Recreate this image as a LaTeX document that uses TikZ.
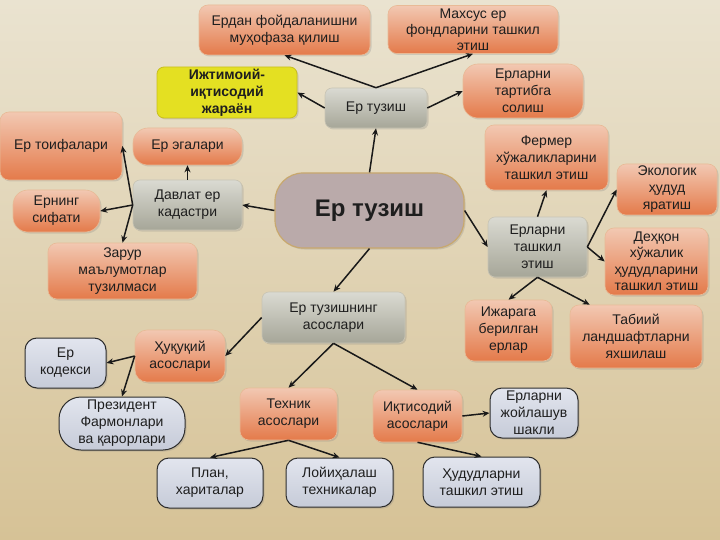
\documentclass[tikz,border=0pt]{standalone}
\usepackage{fontspec}
\setmainfont{Liberation Sans}
\usetikzlibrary{arrows.meta,shadows,calc}
\definecolor{bgtop}{RGB}{234,227,208}
\definecolor{bgbot}{RGB}{214,194,150}
\definecolor{ortop}{RGB}{242,200,178}
\definecolor{orbot}{RGB}{228,122,74}
\definecolor{orline}{RGB}{232,186,150}
\definecolor{grtop}{RGB}{218,218,210}
\definecolor{grbot}{RGB}{166,166,152}
\definecolor{grline}{RGB}{200,196,180}
\definecolor{lttop}{RGB}{226,229,238}
\definecolor{ltbot}{RGB}{198,203,216}
\definecolor{ltline}{RGB}{45,45,45}
\definecolor{yel}{RGB}{228,224,34}
\definecolor{yelline}{RGB}{200,190,30}
\definecolor{mainfill}{RGB}{186,170,170}
\definecolor{mainline}{RGB}{200,168,110}
\definecolor{txt}{RGB}{30,30,30}
\tikzset{
  box/.style={inner sep=0pt, align=center, text=txt,
    font=\fontsize{14}{17}\selectfont,
    drop shadow={opacity=0.25, shadow xshift=1.5pt, shadow yshift=-1.5pt}},
  orbox/.style={box, rounded corners=9pt, top color=ortop, bottom color=orbot, draw=orline, line width=0.6pt},
  grbox/.style={box, rounded corners=7pt, top color=grtop, bottom color=grbot, draw=grline, line width=0.6pt},
  ltbox/.style={box, rounded corners=12pt, top color=lttop, bottom color=ltbot, draw=ltline, line width=1pt},
  ylbox/.style={box, rounded corners=7pt, fill=yel, draw=yelline, line width=0.8pt, font=\fontsize{14}{17}\selectfont\bfseries},
  mainbox/.style={box, rounded corners=28pt, fill=mainfill, draw=mainline, line width=1.2pt, font=\fontsize{24}{28}\selectfont\bfseries},
  arr/.style={-{Stealth[length=7pt,width=6pt]}, line width=1.5pt, draw=black!90},
  ln/.style={line width=1.5pt, draw=black!90}
}
\begin{document}
\begin{tikzpicture}[x=1pt,y=-1pt]
\useasboundingbox (0,0) rectangle (720,540);
\shade[top color=bgtop, bottom color=bgbot] (0,0) rectangle (720,540);

% nodes
\node[orbox, minimum width=171pt, minimum height=50pt] (n1) at (284.5,30) {Ердан фойдаланишни\\муҳофаза қилиш};
\node[orbox, minimum width=170pt, minimum height=48pt, font=\fontsize{14}{16}\selectfont] (n2) at (473,29.5) {Махсус ер\\фондларини ташкил\\этиш};
\node[ylbox, minimum width=140pt, minimum height=51pt] (n3) at (227,92.5) {Ижтимоий-\\иқтисодий\\жараён};
\node[grbox, minimum width=102pt, minimum height=40pt] (n4) at (376,108) {Ер тузиш};
\node[orbox, rounded corners=15pt, minimum width=120pt, minimum height=54pt] (n5) at (523,91) {Ерларни\\тартибга\\солиш};
\node[orbox, minimum width=122pt, minimum height=68pt] (n6) at (61,146) {Ер тоифалари};
\node[orbox, rounded corners=15pt, minimum width=109pt, minimum height=37pt] (n7) at (187.5,146.5) {Ер эгалари};
\node[grbox, minimum width=109pt, minimum height=50pt] (n8) at (187.5,205) {Давлат ер\\кадастри};
\node[orbox, rounded corners=15pt, minimum width=87pt, minimum height=42pt] (n9) at (56.5,211) {Ернинг\\сифати};
\node[orbox, minimum width=149pt, minimum height=56pt] (n10) at (122.5,271) {Зарур\\маълумотлар\\тузилмаси};
\node[mainbox, minimum width=189pt, minimum height=75pt] (main) at (369.5,210.5) {Ер тузиш};
\node[orbox, minimum width=123pt, minimum height=65pt] (n12) at (546.5,157.5) {Фермер\\хўжаликларини\\ташкил этиш};
\node[orbox, minimum width=100pt, minimum height=51pt] (n13) at (667,189.5) {Экологик\\ҳудуд\\яратиш};
\node[grbox, minimum width=99pt, minimum height=60pt] (n14) at (537.5,247) {Ерларни\\ташкил\\этиш};
\node[orbox, minimum width=103pt, minimum height=67pt, font=\fontsize{14}{16.5}\selectfont] (n15) at (656.5,261.5) {Деҳқон\\хўжалик\\ҳудудларини\\ташкил этиш};
\node[orbox, minimum width=87pt, minimum height=61pt] (n16) at (508.5,330.5) {Ижарага\\берилган\\ерлар};
\node[orbox, minimum width=132pt, minimum height=63pt] (n17) at (636,336.5) {Табиий\\ландшафтларни\\яхшилаш};
\node[grbox, minimum width=143pt, minimum height=51pt] (n18) at (333.5,317.5) {Ер тузишнинг\\асослари};
\node[orbox, rounded corners=12pt, minimum width=90pt, minimum height=52pt] (n19) at (180,356) {Ҳуқуқий\\асослари};
\node[ltbox, minimum width=81pt, minimum height=50pt] (n20) at (65.5,363) {Ер\\кодекси};
\node[ltbox, rounded corners=22pt, minimum width=126pt, minimum height=53pt] (n21) at (122,423.5) {Президент\\Фармонлари\\ва қарорлари};
\node[orbox, minimum width=97pt, minimum height=52pt] (n22) at (288.5,414) {Техник\\асослари};
\node[orbox, minimum width=89pt, minimum height=52pt] (n23) at (417.5,416) {Иқтисодий\\асослари};
\node[ltbox, minimum width=88pt, minimum height=50pt] (n24) at (534,413) {Ерларни\\жойлашув\\шакли};
\node[ltbox, minimum width=106pt, minimum height=50pt] (n25) at (210,483) {План,\\хариталар};
\node[ltbox, minimum width=107pt, minimum height=49pt] (n26) at (339.5,482.5) {Лойиҳалаш\\техникалар};
\node[ltbox, minimum width=117pt, minimum height=50pt] (n27) at (481.5,482) {Ҳудудларни\\ташкил этиш};

% connectors
\draw[arr] (n4.north) -- (n1.south);
\draw[arr] (n4.north) -- (n2.south);
\draw[arr] (n4.west) -- (n3.east);
\draw[arr] (n4.east) -- (n5.west);
\draw[arr] (main.north) -- (n4.south);
\draw[arr] (main.west) -- (n8.east);
\draw[arr] (n8.north) -- (n7.south);
\draw[arr] (n8.west) -- (n6.east);
\draw[arr] (n8.west) -- (n9.east);
\draw[arr] (n8.west) -- (n10.north);
\draw[arr] (main.east) -- (n14.west);
\draw[arr] (n14.north) -- (n12.south);
\draw[arr] (n14.east) -- (n13.west);
\draw[arr] (n14.east) -- (n15.west);
\draw[arr] (n14.south) -- (n16.north);
\draw[arr] (n14.south) -- ([xshift=20pt]n17.north west);
\draw[arr] (main.south) -- (n18.north);
\draw[arr] (n18.west) -- (n19.east);
\draw[arr] (n18.south) -- (n22.north);
\draw[arr] (n18.south) -- (n23.north);
\draw[arr] (n19.west) -- (n20.east);
\draw[arr] (n19.west) -- (n21.north);
\draw[arr] (n22.south) -- (n25.north);
\draw[arr] (n22.south) -- (n26.north);
\draw[arr] (n23.east) -- (n24.west);
\draw[arr] (n23.south) -- (n27.north);
\end{tikzpicture}
\end{document}
